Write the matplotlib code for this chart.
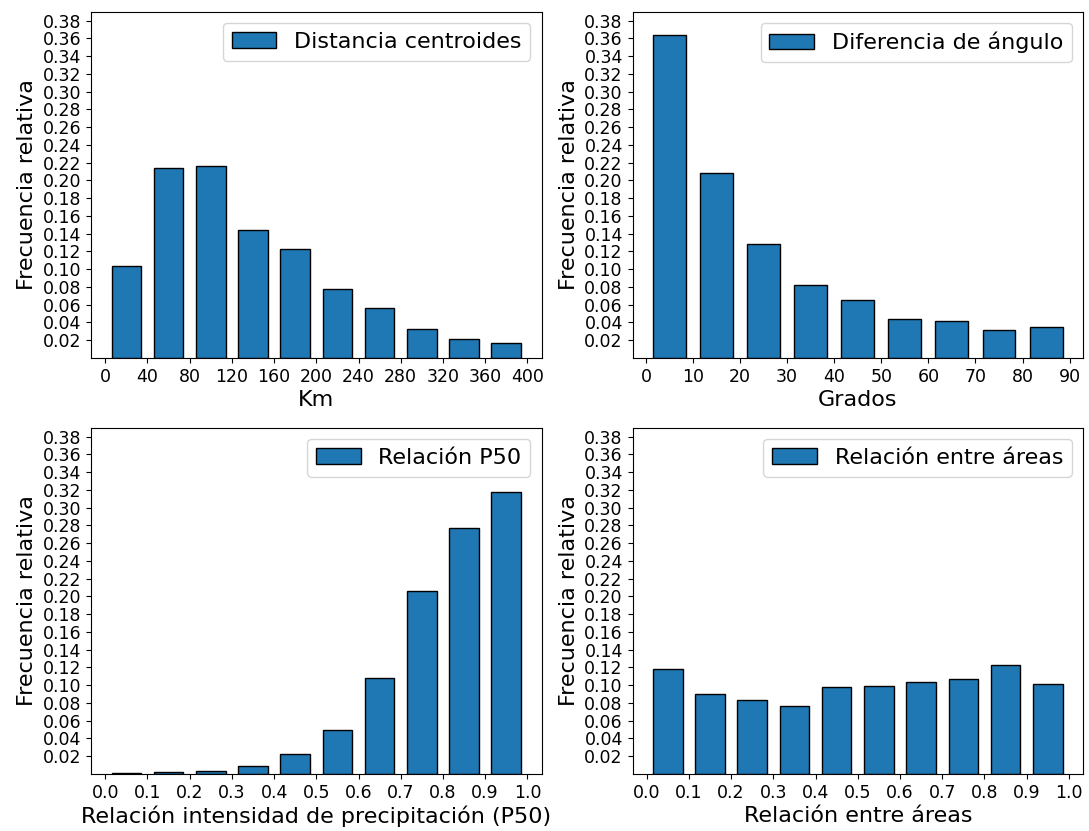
#!/usr/bin/env python3
"""Histogramas de frecuencia relativa: distancia, ángulo, P50 y áreas."""
import matplotlib
matplotlib.use("Agg")
import matplotlib.pyplot as plt
import numpy as np

# ── Datos ────────────────────────────────────────────────────────────────────
dist_centers = [20, 60, 100, 140, 180, 220, 260, 300, 340, 380]
dist_freq = [0.103, 0.214, 0.2165, 0.144, 0.123, 0.077, 0.056, 0.0325, 0.0215, 0.0172]
dist_ticks = list(range(0, 401, 40))

ang_centers = [5, 15, 25, 35, 45, 55, 65, 75, 85]
ang_freq = [0.364, 0.2085, 0.1277, 0.0823, 0.0654, 0.0441, 0.041, 0.031, 0.0343]
ang_ticks = list(range(0, 91, 10))

p50_centers = [0.05, 0.15, 0.25, 0.35, 0.45, 0.55, 0.65, 0.75, 0.85, 0.95]
p50_freq = [0.0011, 0.0023, 0.0034, 0.0087, 0.0225, 0.0499, 0.1086, 0.2066, 0.277, 0.3172]

area_centers = [0.05, 0.15, 0.25, 0.35, 0.45, 0.55, 0.65, 0.75, 0.85, 0.95]
area_freq = [0.1178, 0.090, 0.0832, 0.0765, 0.0979, 0.099, 0.1035, 0.1069, 0.1226, 0.1012]
ratio_ticks = [round(0.1 * i, 1) for i in range(11)]

y_ticks = [round(0.02 * i, 2) for i in range(1, 20)]

panels = [
    (dist_centers, dist_freq, 28, dist_ticks, "Km", "Distancia centroides", "{:d}"),
    (ang_centers, ang_freq, 7, ang_ticks, "Grados", "Diferencia de ángulo", "{:d}"),
    (p50_centers, p50_freq, 0.07, ratio_ticks,
     "Relación intensidad de precipitación (P50)", "Relación P50", "{:.1f}"),
    (area_centers, area_freq, 0.07, ratio_ticks,
     "Relación entre áreas", "Relación entre áreas", "{:.1f}"),
]

# ── Figura ───────────────────────────────────────────────────────────────────
fig, axes = plt.subplots(2, 2, figsize=(10.89, 8.31), dpi=100)
fig.subplots_adjust(left=0.0836, right=0.9945, bottom=0.0686, top=0.986,
                    wspace=0.202, hspace=0.202)

for ax, (centers, freq, width, xt, xlabel, label, fmt) in zip(axes.flat, panels):
    ax.bar(centers, freq, width=width, color="#1f77b4", edgecolor="black",
           linewidth=1.0, label=label)
    ax.set_ylim(0, 0.39)
    ax.set_yticks(y_ticks)
    ax.set_yticklabels([f"{v:.2f}" for v in y_ticks])
    ax.set_xticks(xt)
    ax.set_xticklabels([fmt.format(v) for v in xt])
    ax.tick_params(labelsize=12.5)
    ax.set_xlabel(xlabel, fontsize=16, labelpad=3)
    ax.set_ylabel("Frecuencia relativa", fontsize=16, labelpad=4)
    ax.legend(loc="upper right", fontsize=16)

fig.savefig("out.png", dpi=100)
